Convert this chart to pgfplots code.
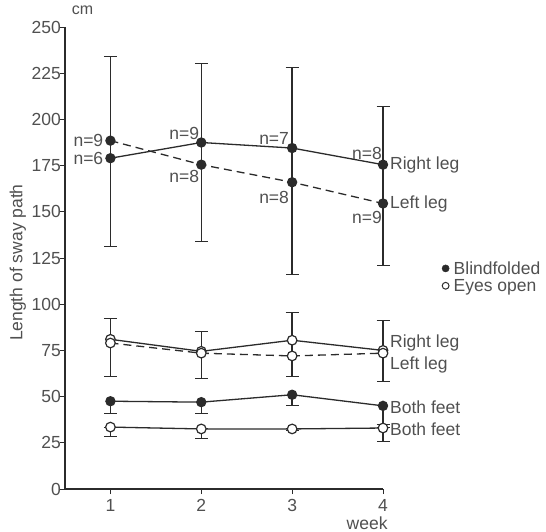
\documentclass[border=0pt]{standalone}
\usepackage{fontspec}
\setmainfont{Liberation Sans}
\usepackage{pgfplots}
\pgfplotsset{compat=1.18}
\definecolor{ink}{HTML}{2B2B2B}
\definecolor{txt}{HTML}{505050}
\newcommand\lf{\fontsize{17.5bp}{21bp}\selectfont}
\newcommand\smf{\fontsize{16bp}{19bp}\selectfont}
\begin{document}
\begin{tikzpicture}
\useasboundingbox (-65bp,-43bp) rectangle (481bp,489bp);
\begin{axis}[
  at={(0,0)}, anchor=south west,
  scale only axis, width=318bp, height=462bp,
  xmin=0.5, xmax=4, ymin=0, ymax=250,
  axis x line=bottom, axis y line=left,
  axis line style={-, line width=1.1bp, ink},
  xtick={1,2,3,4}, ytick={0,25,...,250},
  tick style={ink, line width=0.9bp},
  tick align=outside, major tick length=5bp,
  clip=false,
  /pgf/number format/assume math mode=true,
  tick label style={font=\lf, text=txt},
  yticklabel style={inner sep=0pt, xshift=1bp},
  xticklabel style={inner sep=0pt, yshift=-5bp},
  xlabel={week},
  xlabel style={at={(axis description cs:0.95,-0.074)}, anchor=center, font=\lf, text=txt},
  ylabel={Length of sway path},
  ylabel style={at={(axis description cs:-0.148,0.49)}, anchor=center, font=\lf, text=txt},
  legend style={draw=none, fill=none, at={(axis description cs:1.185,0.459)}, anchor=west,
    font=\lf, text=txt, inner sep=0pt, row sep=2.5bp, nodes={inner sep=0.5bp}},
  legend cell align=left,
  legend image code/.code={\draw[#1] plot coordinates {(0bp,0bp)};},
  /tikz/every odd column/.append style={column sep=4bp},
]
\addlegendimage{only marks, mark=*, mark size=3.6bp, ink}
\addlegendentry{Blindfolded}
\addlegendimage{only marks, mark=*, mark size=3.4bp, mark options={fill=white, draw=ink, line width=1bp}}
\addlegendentry{Eyes open}

% error bars, blindfolded legs
\addplot[forget plot, draw=none, mark=none,
  error bars/.cd, y dir=both, y explicit,
  error bar style={draw=ink, line width=1.5bp, solid},
  error mark options={rotate=90, mark size=6.5bp, line width=1bp, draw=ink}]
  table[x=x, y=y, y error=e] {
x y e
1 182.5 51.5
2 182 48
3 172 56
4 164 43
};
% error bars, eyes open legs
\addplot[forget plot, draw=none, mark=none,
  error bars/.cd, y dir=both, y explicit,
  error bar style={draw=ink, line width=1.5bp, solid},
  error mark options={rotate=90, mark size=6.5bp, line width=1bp, draw=ink}]
  table[x=x, y=y, y error=e] {
x y e
1 76.5 15.5
2 72.5 12.5
3 78.25 17.25
4 74.5 16.5
};
% error bars, blindfolded both feet
\addplot[forget plot, draw=none, mark=none,
  error bars/.cd, y dir=minus, y explicit,
  error bar style={draw=ink, line width=1.5bp, solid},
  error mark options={rotate=90, mark size=6.5bp, line width=1bp, draw=ink}]
  table[x=x, y=y, y error minus=em] {
x y em
1 47.5 6.5
2 47 6
3 51 6
4 45 11.5
};
% error bars, eyes open both feet
\addplot[forget plot, draw=none, mark=none,
  error bars/.cd, y dir=both, y explicit,
  error bar style={draw=ink, line width=1.5bp, solid},
  error mark options={rotate=90, mark size=6.5bp, line width=1bp, draw=ink}]
  table[x=x, y=y, y error plus=ep, y error minus=em] {
x y ep em
1 33.5 0 5
2 32.5 0 5
3 32.5 0 1
4 33 2 7.5
};

% Blindfolded right leg
\addplot[forget plot, ink, line width=1.3bp, mark=*, mark size=4.5bp, mark options={solid, fill=ink}]
  coordinates {(1,179) (2,187.5) (3,184.5) (4,175.5)};
% Blindfolded left leg
\addplot[forget plot, ink, line width=1.3bp, dash pattern=on 8bp off 5bp, mark=*, mark size=4.5bp, mark options={solid, fill=ink}]
  coordinates {(1,188.5) (2,175.5) (3,166) (4,154.5)};
% Eyes open right leg
\addplot[forget plot, ink, line width=1.3bp, mark=*, mark size=4.8bp, mark options={solid, fill=white, draw=ink, line width=1.2bp}]
  coordinates {(1,81) (2,74.5) (3,80.5) (4,75)};
% Eyes open left leg
\addplot[forget plot, ink, line width=1.3bp, dash pattern=on 8bp off 5bp, mark=*, mark size=4.8bp, mark options={solid, fill=white, draw=ink, line width=1.2bp}]
  coordinates {(1,79) (2,73.5) (3,72) (4,73.5)};
% Blindfolded both feet
\addplot[forget plot, ink, line width=1.3bp, mark=*, mark size=4.5bp, mark options={solid, fill=ink}]
  coordinates {(1,47.5) (2,47) (3,51) (4,45)};
% Eyes open both feet
\addplot[forget plot, ink, line width=1.3bp, mark=*, mark size=4.8bp, mark options={solid, fill=white, draw=ink, line width=1.2bp}]
  coordinates {(1,33.5) (2,32.5) (3,32.5) (4,33)};

% n labels
\node[anchor=east, font=\lf, text=txt, inner sep=0pt] at (axis cs:1,188.5) [xshift=-7bp] {n=9};
\node[anchor=east, font=\lf, text=txt, inner sep=0pt] at (axis cs:1,179) [xshift=-7bp] {n=6};
\node[anchor=south east, font=\lf, text=txt, inner sep=0pt] at (axis cs:2,187.5) [xshift=-2bp, yshift=3bp] {n=9};
\node[anchor=north east, font=\lf, text=txt, inner sep=0pt] at (axis cs:2,175.5) [xshift=-2bp, yshift=-5bp] {n=8};
\node[anchor=south east, font=\lf, text=txt, inner sep=0pt] at (axis cs:3,184.5) [xshift=-3bp, yshift=3bp] {n=7};
\node[anchor=north east, font=\lf, text=txt, inner sep=0pt] at (axis cs:3,166) [xshift=-3bp, yshift=-9bp] {n=8};
\node[anchor=south east, font=\lf, text=txt, inner sep=0pt] at (axis cs:4,175.5) [xshift=-1bp, yshift=5bp] {n=8};
\node[anchor=north east, font=\lf, text=txt, inner sep=0pt] at (axis cs:4,154.5) [xshift=-1bp, yshift=-8bp] {n=9};
% series labels
\node[anchor=west, font=\lf, text=txt, inner sep=0pt] at (axis cs:4,175.5) [xshift=7bp] {Right leg};
\node[anchor=west, font=\lf, text=txt, inner sep=0pt] at (axis cs:4,154.5) [xshift=7bp] {Left leg};
\node[anchor=west, font=\lf, text=txt, inner sep=0pt] at (axis cs:4,79) [xshift=7bp] {Right leg};
\node[anchor=west, font=\lf, text=txt, inner sep=0pt] at (axis cs:4,67) [xshift=7bp] {Left leg};
\node[anchor=west, font=\lf, text=txt, inner sep=0pt] at (axis cs:4,44.5) [xshift=7bp] {Both feet};
\node[anchor=west, font=\lf, text=txt, inner sep=0pt] at (axis cs:4,32.5) [xshift=7bp] {Both feet};
\node[anchor=center, font=\smf, text=txt, inner sep=0pt] at (axis description cs:0.055,1.037) {cm};
\end{axis}
\end{tikzpicture}
\end{document}
